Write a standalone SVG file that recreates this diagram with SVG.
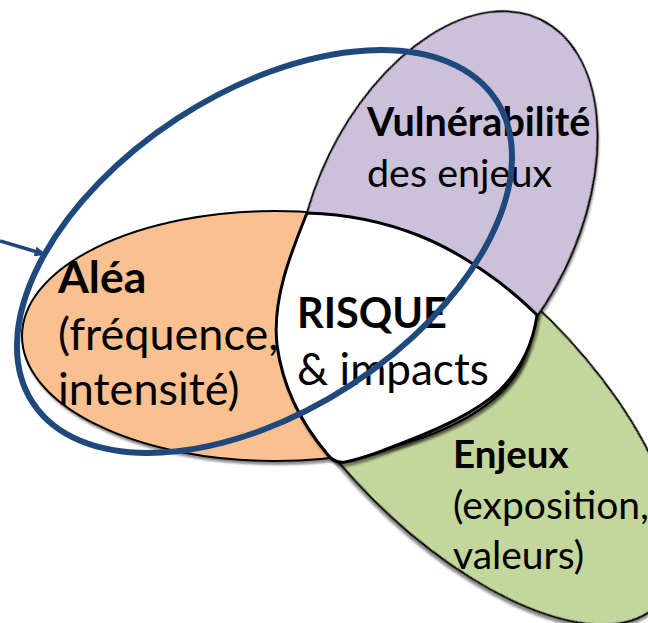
<svg xmlns="http://www.w3.org/2000/svg" width="648" height="623" viewBox="0 0 648 623">
<style>
.shape{stroke:#000;stroke-width:2;filter:url(#sh)}
.t{font-family:Lato,"Open Sans","Liberation Sans",sans-serif;fill:#000}
.b{font-weight:bold}
.blue{fill:none;stroke:#1F497D;stroke-width:6}
</style>
<defs>
<filter id="sh" x="-10%" y="-10%" width="130%" height="130%">
<feDropShadow dx="2" dy="3" stdDeviation="1.2" flood-color="#000" flood-opacity="0.45"/>
</filter>
<clipPath id="gclip"><path d="M300,480 L330,452 L545,290 L700,290 L700,650 L300,650 Z"/></clipPath>
<marker id="ah" markerWidth="12" markerHeight="10" refX="3" refY="5" orient="auto" markerUnits="userSpaceOnUse"><path d="M0,0 L12,5 L0,10 Z" fill="#1F497D"/></marker>
</defs>
<rect width="648" height="623" fill="#fff"/>
<g id="enjeux">
<g clip-path="url(#gclip)"><ellipse class="shape" cx="462" cy="410" rx="276" ry="126" transform="rotate(45 462 410)" fill="#C3D69B"/></g>
</g>
<g id="alea">
<ellipse class="shape" cx="275" cy="336" rx="253" ry="125" fill="#FAC090"/>
</g>
<g id="vulnerabilite">
<ellipse class="shape" cx="447" cy="212" rx="131" ry="214" transform="rotate(26 447 212)" fill="#CCC1DA"/>
</g>
<g id="risque">
<path class="shape" style="stroke-width:3" fill="#fff" d="M307,213 C345,214 385,222 420,236 C460,252 505,283 537,315 C533,345 520,370 500,390 C475,413 440,428 410,440 C385,450 365,458 345,462 C338,463 332,460 328,455 C305,428 283,390 277,345 C272,300 290,255 307,213 Z"/>
</g>
<g id="labels">
<text class="t b" x="367" y="136" font-size="39.5">Vulnérabilité</text>
<text class="t" x="367" y="187" font-size="39.5">des enjeux</text>
<text class="t b" x="58" y="293" font-size="44.5">Aléa</text>
<text class="t" x="58" y="350" font-size="45">(fréquence,</text>
<text class="t" x="58" y="405" font-size="45">intensité)</text>
<text class="t b" x="297" y="328" font-size="41.5">RISQUE</text>
<text class="t" x="297" y="385" font-size="44">&amp; impacts</text>
<text class="t b" x="453" y="468" font-size="38.5">Enjeux</text>
<text class="t" x="453" y="519" font-size="39">(exposition,</text>
<text class="t" x="453" y="569" font-size="39">valeurs)</text>
</g>
<g id="connectors">
<ellipse class="blue" cx="264.5" cy="251.5" rx="276.7" ry="159" transform="rotate(-33.1 264.5 251.5)"/>
<line x1="0" y1="241" x2="38" y2="252.3" stroke="#1F497D" stroke-width="3.5" marker-end="url(#ah)"/>
</g>
</svg>
